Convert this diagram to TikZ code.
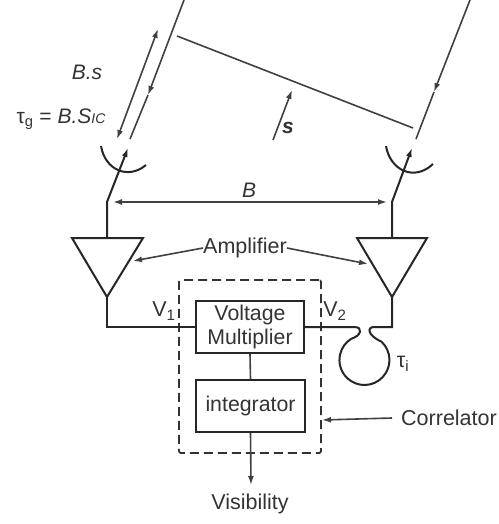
\documentclass[tikz,border=0pt]{standalone}
\usepackage{fontspec}
\setmainfont{Liberation Sans}
\usetikzlibrary{arrows.meta}
\tikzset{
  wire/.style={draw=black!85,line width=2pt},
  thin wire/.style={draw=black!75,line width=1.6pt},
  tip/.style={-{Latex[length=9pt,width=6pt]}},
  tips/.style={{Latex[length=9pt,width=6pt]}-{Latex[length=9pt,width=6pt]}},
  lbl/.style={inner sep=0pt,text=black!80,font=\fontsize{21.5}{24}\selectfont},
  block/.style={draw=black!85,line width=2pt,inner sep=0pt,align=center,text=black!80,font=\fontsize{21.3}{24}\selectfont},
  amp/.style={draw=black!85,line width=2pt,line join=miter,fill=white},
  dashbox/.style={draw=black!80,line width=1.8pt,dash pattern=on 9pt off 5pt,rounded corners=2pt,inner sep=0pt}
}
\begin{document}
\begin{tikzpicture}[x=1pt,y=-1pt]
\useasboundingbox (0,0) rectangle (498,524);
% dashed correlator frame
\node[dashbox,minimum width=142pt,minimum height=173pt] (corr) at (250,366.5) {};
% blocks
\node[block,minimum width=108pt,minimum height=52pt] (vm) at (250,327) {Voltage\\Multiplier};
\node[block,minimum width=109pt,minimum height=52pt] (int) at (250.5,406) {integrator};
% amplifiers
\coordinate (la) at (72,238); \coordinate (lb) at (143,238); \coordinate (lt) at (107,297);
\coordinate (ra) at (357,238); \coordinate (rb) at (427,238); \coordinate (rt) at (392,297);
\draw[amp] (la) -- (lb) -- (lt) -- cycle;
\draw[amp] (ra) -- (rb) -- (rt) -- cycle;
% antenna feeds
\coordinate (ltop) at (107,238); \coordinate (lk) at (107,202); \coordinate (lf) at (128,148);
\coordinate (rtop) at (392,238); \coordinate (rk) at (392,202); \coordinate (rf) at (412,148);
\draw[wire,tip] (ltop) -- (lk) -- (lf);
\draw[wire,tip] (rtop) -- (rk) -- (rf);
% dishes
\coordinate (lda) at (101,146); \coordinate (ldb) at (146,165);
\coordinate (rda) at (386,146); \coordinate (rdb) at (433,164);
\draw[wire] (lda) .. controls (105,170) and (128,180) .. (ldb);
\draw[wire] (rda) .. controls (390,170) and (414,182) .. (rdb);
% rays
\coordinate (r1a) at (184,0); \coordinate (r1m) at (148,95); \coordinate (r1b) at (130,139);
\coordinate (r2a) at (470,0); \coordinate (r2m) at (434,92); \coordinate (r2b) at (416,139);
\draw[thin wire,tip] (r1a) -- (r1m);
\draw[thin wire] (r1m) -- (r1b);
\draw[thin wire,tip] (r2a) -- (r2m);
\draw[thin wire] (r2m) -- (r2b);
% delay span
\coordinate (da) at (158,29); \coordinate (db) at (117,139);
\draw[thin wire,tips] (da) -- (db);
% wavefront
\coordinate (wa) at (177,36); \coordinate (wb) at (413,128);
\draw[thin wire] (wa) -- (wb);
% s vector
\coordinate (sa) at (273,140); \coordinate (sb) at (292,90);
\draw[thin wire,tip] (sa) -- (sb);
% baseline
\coordinate (ba) at (113,202); \coordinate (bb) at (387,202);
\draw[thin wire,tips] (ba) -- (bb);
% left output to multiplier
\coordinate (lc) at (107,327);
\draw[wire] (lt) -- (lc) -- (vm.west);
% right output through delay loop
\coordinate (rc) at (392,327);
\draw[wire] (rt) -- (rc) -- (374,327) .. controls (367,327) and (367,335) .. (381.5,341.7)
  arc (-47:238:25) .. controls (361,336) and (364,327) .. (354,327) -- (vm.east);
% internal links
\draw[thin wire] (vm.south) -- (int.north);
\coordinate (vout) at (251,485);
\draw[thin wire,tip] (int.south) -- (vout);
% labels
\node[lbl] (amp) at (245,248) {Amplifier};
\draw[thin wire,tip] (amp.west) -- (133,261);
\draw[thin wire,tip] (amp.east) -- (368,264);
\node[lbl] (corrl) at (449,418) {Correlator};
\draw[thin wire,tip] (392,418) -- (322,420);
\node[lbl] (vis) at (250,504) {Visibility};
\node[lbl] (v1) at (164,311) {V\textsubscript{1}};
\node[lbl] (v2) at (335,311) {V\textsubscript{2}};
\node[lbl] (ti) at (403,364) {τ\textsubscript{i}};
\node[lbl,font=\itshape\fontsize{21}{24}\selectfont] (bs) at (87,72) {B.s};
\node[lbl,font=\fontsize{21}{24}\selectfont] (tg) at (61,119) {τ\textsubscript{g} = \textit{B.S}{\itshape\fontsize{14}{16}\selectfont IC}};
\node[lbl,font=\bfseries\itshape\fontsize{21}{24}\selectfont] (s) at (288,128) {s};
\node[lbl,font=\itshape\fontsize{21}{24}\selectfont] (b) at (249,190) {B};
\end{tikzpicture}
\end{document}
